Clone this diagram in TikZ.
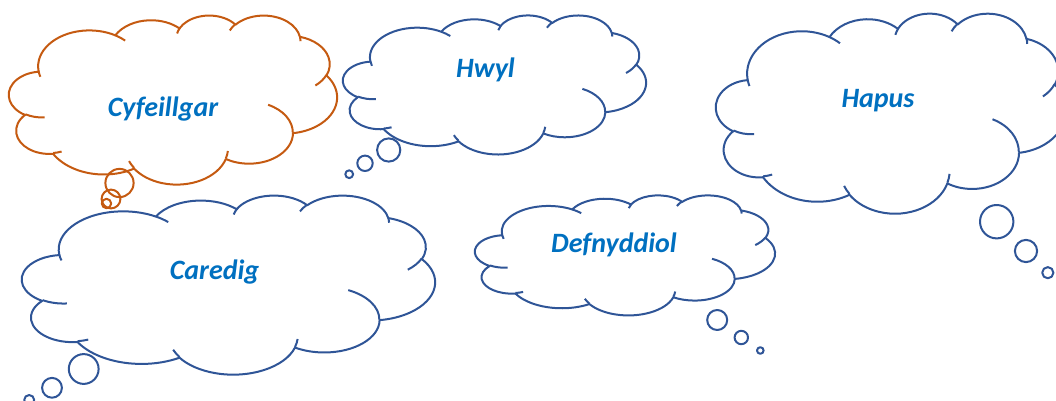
\documentclass[tikz,border=0pt]{standalone}
\usepackage{fontspec}
\setmainfont{Carlito}
\definecolor{cblue}{HTML}{2F5597}
\definecolor{corange}{HTML}{C55A11}
\definecolor{tblue}{HTML}{0070C0}
\newcommand\oarc[4]{arc[x radius=#1, y radius=#2, start angle={pa(#3,#1,#2)}, delta angle={pd(#3,#4,#1,#2)}]}
\newcommand\cloudshape[5]{%
  \begin{scope}[shift={(#1,#2)}, xscale=#3/43.2, yscale=#4/43.2]
    \draw[cloudline, #5] (3.9,14.37)
      \oarc{6.753}{9.19}{-190.48748}{123.78053}
      \oarc{5.333}{7.267}{-144.10238}{89.94523}
      \oarc{4.365}{5.945}{-145.80792}{99.72302}
      \oarc{4.857}{6.595}{-130.98607}{117.24173}
      \oarc{5.333}{7.273}{-78.70888}{109.02692}
      \oarc{6.775}{9.22}{-46.26725}{130.269}
      \oarc{5.785}{7.867}{0.62502}{114.03333}
      \oarc{6.752}{9.215}{22.4516}{115.17255}
      \oarc{7.72}{10.543}{66.24263}{75.71102}
      \oarc{4.36}{5.918}{-274.94208}{146.73557}
      \oarc{4.345}{5.945}{-246.8285}{152.51885}
      -- cycle;
    \draw[cloudline, #5]
      (4.693,26.177) \oarc{4.345}{5.945}{86.742}{26.4295}
      (6.928,34.899) \oarc{4.36}{5.918}{73.61047}{11.44747}
      (16.478,39.09) \oarc{6.752}{9.215}{137.62415}{14.0811}
      (28.827,34.751) \oarc{6.752}{9.215}{6.45327}{15.99835}
      (34.129,22.954) \oarc{5.785}{7.867}{-70.29235}{70.91737}
      (41.798,15.354) \oarc{5.333}{7.273}{30.31803}{27.7515}
      (38.324,5.426) \oarc{4.857}{6.595}{-13.74433}{14.8589}
      (29.078,3.952) \oarc{4.857}{6.595}{-149.18145}{18.19537}
      (22.141,4.72) \oarc{4.365}{5.945}{-163.49427}{17.68635}
      (14.0,5.192) \oarc{6.753}{9.19}{-66.70695}{12.31935}
      (4.127,15.789) \oarc{6.753}{9.19}{157.65435}{11.85817};
  \end{scope}}
\begin{document}
\begin{tikzpicture}[x=1pt, y=-1pt,
  declare function={
    pa(\a,\w,\h)=atan2(\w*sin(\a),\h*cos(\a));
    pd(\a,\s,\w,\h)=mod(mod(pa(\a+\s,\w,\h)-pa(\a,\w,\h),360)+540,360)-180;
  },
  cloudline/.style={line width=2pt, line join=round},
  bluel/.style={draw=cblue},
  orangel/.style={draw=corange},
  lbl/.style={font=\fontsize{28}{32}\selectfont\bfseries\itshape, text=tblue, anchor=base, inner sep=0pt}]
\useasboundingbox (0,0) rectangle (1056,401);
\clip (0,0) rectangle (1056,401);

% Cyfeillgar (orange)
\cloudshape{9}{15}{328}{169}{orangel}
\draw[cloudline, orangel] (119.5,183) circle[radius=14.1];
\draw[cloudline, orangel] (111,199) circle[radius=9.4];
\draw[cloudline, orangel] (106.5,203.5) circle[radius=4.7];
\node[lbl] (t1) at (163,117) {Cyfeillgar};

% Hwyl
\cloudshape{343}{15}{303}{139}{bluel}
\draw[cloudline, bluel] (388.7,150) circle[radius=11.6];
\draw[cloudline, bluel] (365,163.3) circle[radius=7.7];
\draw[cloudline, bluel] (349.2,174.2) circle[radius=3.9];
\node[lbl] (t2) at (485.5,78) {Hwyl};

% Hapus
\cloudshape{716}{13}{350}{200}{bluel}
\draw[cloudline, bluel] (996.7,221.7) circle[radius=16.7];
\draw[cloudline, bluel] (1026,251) circle[radius=11.1];
\draw[cloudline, bluel] (1047.8,272.7) circle[radius=5.6];
\node[lbl] (t3) at (878,107) {Hapus};

% Caredig
\cloudshape{22}{195}{413}{179}{bluel}
\draw[cloudline, bluel] (83.7,369) circle[radius=14.9];
\draw[cloudline, bluel] (52,387.8) circle[radius=9.9];
\draw[cloudline, bluel] (29.2,400) circle[radius=5];
\node[lbl] (t4) at (214.5,279) {Caredig};

% Defnyddiol
\cloudshape{475}{195}{300}{120}{bluel}
\draw[cloudline, bluel] (717.2,320) circle[radius=10];
\draw[cloudline, bluel] (741.3,337.5) circle[radius=6.7];
\draw[cloudline, bluel] (760.3,350.5) circle[radius=3.3];
\node[lbl] (t5) at (614,252) {Defnyddiol};
\end{tikzpicture}
\end{document}
